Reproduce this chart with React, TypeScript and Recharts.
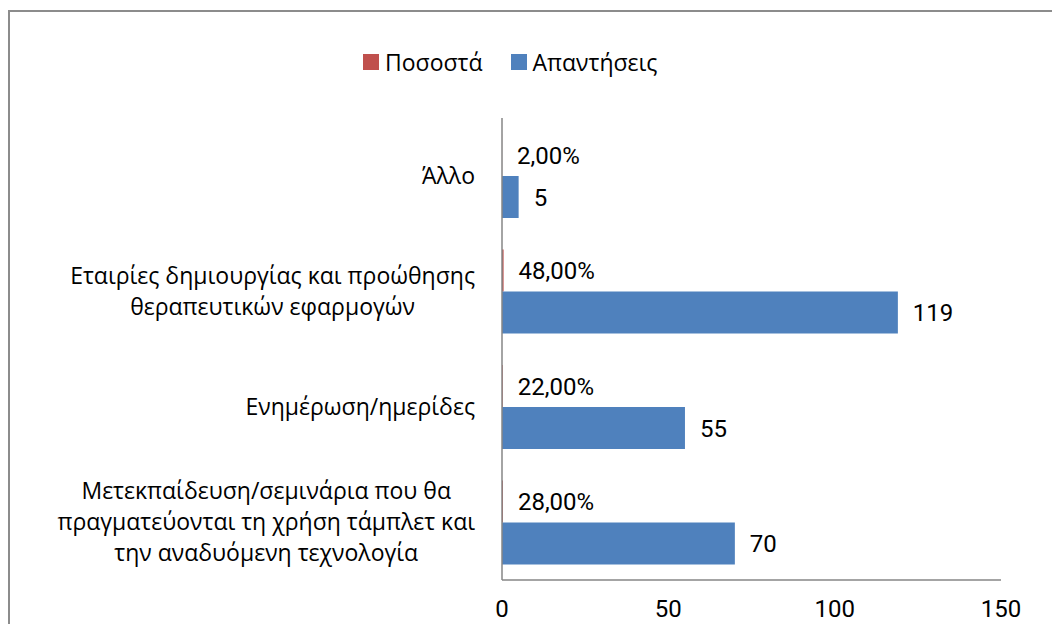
import React from "react";
import { BarChart, Bar, XAxis, YAxis, LabelList } from "recharts";

const CATEGORIES = [
  "Άλλο",
  "Εταιρίες δημιουργίας και προώθησης\nθεραπευτικών εφαρμογών",
  "Ενημέρωση/ημερίδες",
  "Μετεκπαίδευση/σεμινάρια που θα\nπραγματεύονται τη χρήση τάμπλετ και\nτην αναδυόμενη τεχνολογία",
];
const PERCENTS = [0.02, 0.48, 0.22, 0.28];
const RESPONSES = [5, 119, 55, 70];
const X_TICKS = [0, 50, 100, 150];

const SERIES = [
  { key: "pct", name: "Ποσοστά", color: "#C0504D" },
  { key: "resp", name: "Απαντήσεις", color: "#4F81BD" },
];

const data = CATEGORIES.map((name, i) => ({ name, pct: PERCENTS[i], resp: RESPONSES[i] }));

const LABEL_FONT = "Open Sans";
const LABEL_SIZE = 23;
const NUM_FONT = "Roboto";

let ctx: CanvasRenderingContext2D | null = null;
function measure(text: string, font: string) {
  if (!ctx) ctx = document.createElement("canvas").getContext("2d");
  if (!ctx) return text.length * 10;
  ctx.font = font;
  return ctx.measureText(text).width;
}

// wrapped category labels: block right-aligned to the axis, lines centred inside it
function CategoryTick(props: any) {
  const { x, y, payload } = props;
  const lines = String(payload.value).split("\n");
  const lh = 31;
  const w = Math.max(...lines.map((l) => measure(l, `${LABEL_SIZE}px "${LABEL_FONT}"`)));
  const cx = x - w / 2;
  return (
    <text x={cx} y={y} textAnchor="middle" fontFamily={LABEL_FONT} fontSize={LABEL_SIZE} fill="#000">
      {lines.map((l, i) => (
        <tspan key={i} x={cx} y={y + (i - (lines.length - 1) / 2) * lh} dy="0.35em">
          {l}
        </tspan>
      ))}
    </text>
  );
}

const fmtPct = (v: any) => `${(Number(v) * 100).toFixed(2).replace(".", ",")}%`;

export default function App() {
  return (
    <div style={{ position: "fixed", left: 0, top: 0, width: 1052, height: 624, overflow: "hidden", background: "#fff" }}>
      <div
        style={{
          position: "absolute",
          left: 8,
          top: 10,
          width: 1200,
          height: 800,
          border: "2px solid #8c8c8c",
        }}
      />
      <div
        style={{
          position: "absolute",
          left: 363,
          top: 46,
          display: "flex",
          alignItems: "center",
          fontFamily: LABEL_FONT,
          fontSize: 23,
          color: "#000",
          whiteSpace: "nowrap",
        }}
      >
        {SERIES.map((s, i) => (
          <div key={s.key} style={{ display: "flex", alignItems: "center", marginRight: i === 0 ? 28 : 0 }}>
            <span style={{ width: 16, height: 16, background: s.color, display: "inline-block", marginRight: 6 }} />
            <span>{s.name}</span>
          </div>
        ))}
      </div>
      <div style={{ position: "absolute", left: 0, top: 0 }}>
        <BarChart
          width={1052}
          height={624}
          data={data}
          layout="vertical"
          margin={{ top: 118, right: 51, bottom: 0, left: 0 }}
          barGap={0}
          barSize={42}
        >
          <XAxis
            type="number"
            domain={[0, 150]}
            ticks={X_TICKS}
            interval={0}
            height={44}
            axisLine={{ stroke: "#868686", strokeWidth: 1.5 }}
            tickLine={false}
            tickSize={0}
            tickMargin={20}
            tick={{ fontFamily: NUM_FONT, fontSize: 24, fill: "#000" }}
          />
          <YAxis
            type="category"
            dataKey="name"
            width={502}
            axisLine={{ stroke: "#868686", strokeWidth: 1.5 }}
            tickLine={false}
            tickSize={0}
            tickMargin={27}
            interval={0}
            tick={<CategoryTick />}
          />
          {SERIES.map((s) => (
            <Bar key={s.key} dataKey={s.key} name={s.name} fill={s.color} isAnimationActive={false}>
              <LabelList
                dataKey={s.key}
                position="right"
                offset={15}
                formatter={s.key === "pct" ? fmtPct : undefined}
                style={{ fontFamily: NUM_FONT, fontSize: 24, fill: "#000" }}
              />
            </Bar>
          ))}
        </BarChart>
      </div>
    </div>
  );
}
